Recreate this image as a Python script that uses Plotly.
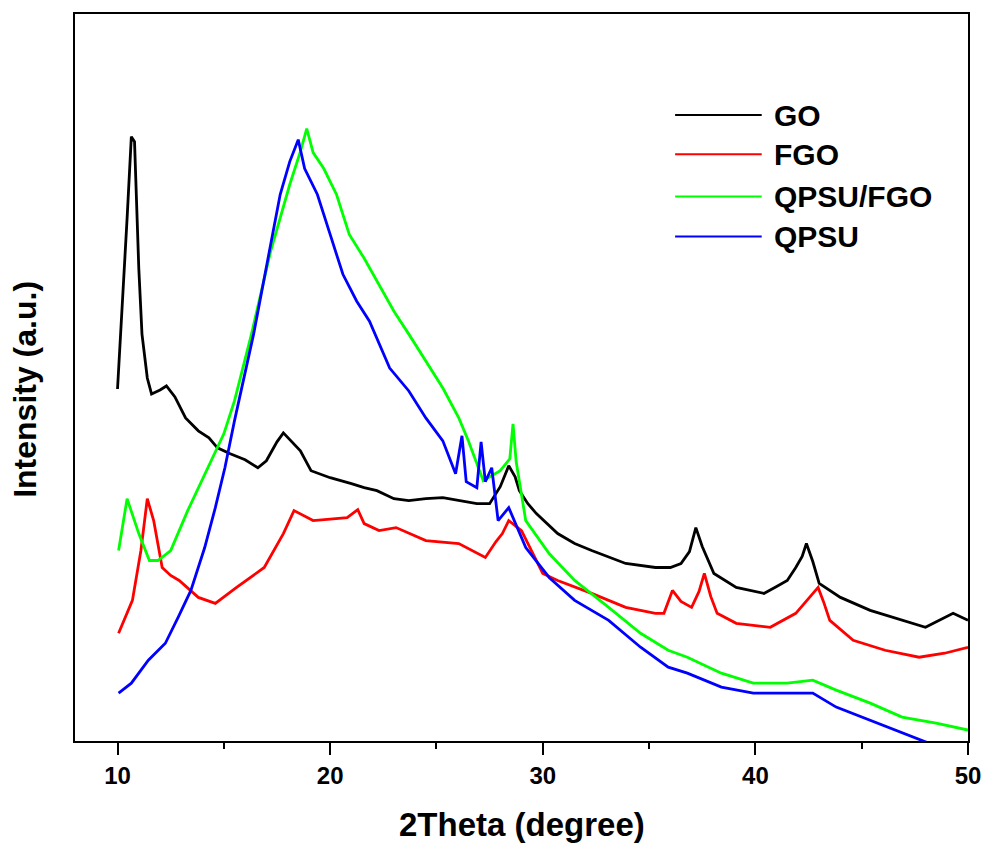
import plotly.graph_objects as go

# ---------------- data ----------------
go_x = [10.0, 10.2, 10.45, 10.65, 10.8, 11.0, 11.15, 11.4, 11.6, 12.0, 12.3, 12.7, 13.2, 13.8, 14.3,
        14.7, 15.3, 16.0, 16.6, 17.0, 17.5, 17.8, 18.2, 18.6, 19.1, 20.0, 21.0, 21.6, 22.2, 23.0,
        23.7, 24.5, 25.3, 26.2, 26.9, 27.5, 28.0, 28.4, 28.7, 28.9, 29.3, 29.7, 30.7, 31.5, 32.3,
        33.9, 35.3, 36.0, 36.5, 36.9, 37.2, 37.5, 37.8, 38.05, 39.1, 40.4, 41.0, 41.5, 41.9, 42.2,
        42.4, 42.7, 43.0, 44.0, 45.4, 46.9, 48.0, 49.3, 50.0]
go_y = [353, 424, 524, 606, 601, 474, 408, 364, 348, 352, 356, 345, 324, 311, 304,
        294, 288, 282, 274, 281, 300, 309, 300, 291, 271, 264, 258, 254, 251, 243,
        241, 243, 244, 241, 238, 238, 255, 276, 265, 251, 238, 228, 208, 198, 191,
        178, 174, 174, 178, 190, 214, 195, 180, 168, 154, 148, 155, 161, 174, 185,
        198, 180, 158, 144, 131, 121, 114, 128, 121]

fgo_x = [10.05, 10.4, 10.7, 11.1, 11.4, 11.7, 12.1, 12.5, 12.9, 13.8, 14.6, 15.6, 16.9, 17.8, 18.3,
         19.2, 20.8, 21.3, 21.6, 22.3, 23.1, 24.5, 26.05, 27.3, 27.8, 28.1, 28.4, 29.0, 29.5, 30.0,
         30.7, 32.3, 33.9, 35.3, 35.7, 36.1, 36.5, 37.0, 37.35, 37.6, 37.9, 38.2, 39.1, 40.7, 41.9,
         42.4, 42.7, 42.95, 43.2, 43.5, 44.6, 46.1, 47.7, 48.9, 50.0]
fgo_y = [108, 125, 141, 191, 243, 221, 174, 166, 161, 144, 138, 154, 174, 208, 231,
         221, 224, 232, 218, 211, 214, 201, 198, 184, 200, 208, 221, 211, 190, 168,
         161, 148, 134, 128, 128, 151, 140, 134, 150, 168, 145, 128, 118, 114, 128,
         140, 148, 154, 140, 121, 101, 91, 84, 88, 94]

qf_x = [10.05, 10.45, 11.0, 11.5, 11.9, 12.5, 13.3, 14.25, 15.0, 15.5, 16.3, 17.2, 18.1, 18.6, 18.9,
        19.2, 19.7, 20.3, 20.9, 21.6, 22.3, 23.0, 23.7, 24.5, 25.3, 26.05, 26.5, 27.2, 28.0, 28.45,
        28.6, 28.75, 29.2, 30.3, 31.5, 33.1, 34.6, 35.9, 36.8, 38.4, 39.9, 41.5, 42.7, 43.8, 45.4,
        46.9, 48.5, 50.0]
qf_y = [191, 243, 208, 181, 181, 191, 231, 274, 308, 341, 408, 491, 558, 591, 614,
        590, 574, 548, 508, 484, 458, 431, 408, 381, 354, 324, 301, 261, 271, 283,
        318, 280, 221, 188, 161, 134, 108, 91, 84, 68, 58, 58, 61, 51, 38,
        24, 18, 11]

q_x = [10.05, 10.65, 11.45, 12.25, 12.85, 13.45, 14.1, 14.6, 15.05, 15.5, 16.4, 17.05, 17.65, 18.1, 18.5,
       18.8, 19.4, 20.0, 20.6, 21.25, 21.85, 22.8, 23.7, 24.5, 25.3, 25.9, 26.2, 26.4, 26.9, 27.1,
       27.3, 27.6, 27.9, 28.4, 29.2, 30.3, 31.5, 33.1, 34.6, 35.9, 36.8, 38.4, 39.9, 41.5, 42.7,
       43.8, 45.4, 46.9, 48.5]
q_y = [48, 58, 81, 98, 124, 151, 194, 234, 274, 321, 408, 481, 548, 581, 603,
       574, 548, 508, 468, 441, 421, 374, 351, 324, 301, 268, 306, 260, 254, 300,
       260, 274, 221, 234, 194, 164, 141, 121, 94, 74, 68, 54, 48, 48, 48,
       34, 21, 8, -5]

series_names = ["GO", "FGO", "QPSU/FGO", "QPSU"]
series_colors = ["#000000", "#FF0000", "#00FF00", "#0000FF"]
series_x = [go_x, fgo_x, qf_x, q_x]
series_y = [go_y, fgo_y, qf_y, q_y]

x_ticks = [10, 20, 30, 40, 50]
x_title = "2Theta (degree)"
y_title = "Intensity (a.u.)"

FONT = "Arial, 'Liberation Sans', Helvetica, sans-serif"

fig = go.Figure()
for nm, c, xs, ys in zip(series_names, series_colors, series_x, series_y):
    fig.add_trace(go.Scatter(x=xs, y=ys, mode="lines", name=nm,
                             line=dict(color=c, width=2.8), showlegend=False))

# custom legend (long line samples as in the reference)
leg_y = [0.861, 0.807, 0.749, 0.694]
for nm, c, yy in zip(series_names, series_colors, leg_y):
    fig.add_shape(type="line", xref="paper", yref="paper", x0=0.672, x1=0.769, y0=yy, y1=yy,
                  line=dict(color=c, width=2))
    fig.add_annotation(xref="paper", yref="paper", x=0.781, y=yy, text="<b>%s</b>" % nm,
                       showarrow=False, xanchor="left", yanchor="middle",
                       font=dict(family=FONT, size=30, color="black"))

fig.add_annotation(xref="paper", yref="paper", x=0.5, y=0, yshift=-83, text="<b>%s</b>" % x_title,
                   showarrow=False, xanchor="center", yanchor="middle",
                   font=dict(family=FONT, size=33, color="black"))
fig.add_annotation(xref="paper", yref="paper", x=0, xshift=-50, y=0.483, text="<b>%s</b>" % y_title,
                   showarrow=False, xanchor="center", yanchor="middle", textangle=-90,
                   font=dict(family=FONT, size=32, color="black"))

fig.update_layout(
    width=993, height=850,
    margin=dict(l=75, r=17, t=12, b=109),
    paper_bgcolor="white", plot_bgcolor="white",
    showlegend=False,
    font=dict(family=FONT, color="black"),
)
fig.update_xaxes(range=[8, 50], tickvals=x_ticks, ticktext=["<b>%d</b>" % v for v in x_ticks],
                 ticks="outside", ticklen=12, tickwidth=2, tickcolor="black",
                 minor=dict(dtick=5, tick0=0, ticks="outside", ticklen=6, tickwidth=2, tickcolor="black"),
                 tickfont=dict(family=FONT, size=24, color="black"),
                 ticklabeloverflow="allow",
                 showline=True, linewidth=2, linecolor="black", mirror=True,
                 showgrid=False, zeroline=False)
fig.update_yaxes(range=[0, 729], showticklabels=False, ticks="",
                 showline=True, linewidth=2, linecolor="black", mirror=True,
                 showgrid=False, zeroline=False)

fig.write_html("out.html")
